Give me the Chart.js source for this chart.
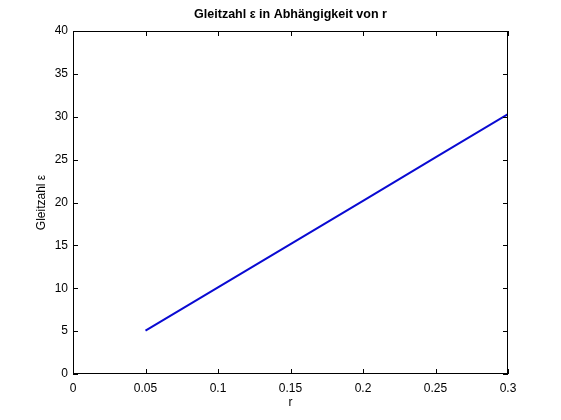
<!doctype html>
<html><head><meta charset="utf-8"><title>Gleitzahl</title>
<style>body{margin:0;background:#fff}</style>
</head>
<body>
<canvas id="c" width="561" height="420"></canvas>
<script src="https://cdn.jsdelivr.net/npm/chart.js"></script>
<script>
// Werte
const rValues = [0.05, 0.1, 0.15, 0.2, 0.25, 0.3]
const epsValues = [5.05, 10.1, 15.15, 20.2, 25.25, 30.3]
const xTickValues = [0, 0.05, 0.1, 0.15, 0.2, 0.25, 0.3]
const xTickLabels = ['0', '0.05', '0.1', '0.15', '0.2', '0.25', '0.3']
const yTickValues = [0, 5, 10, 15, 20, 25, 30, 35, 40]
const yTickLabels = ['0', '5', '10', '15', '20', '25', '30', '35', '40']

const font = { family: 'Arial, "Liberation Sans", Helvetica, sans-serif', size: 12 }

// Rahmen + Ticks nach innen (MATLAB-Stil)
const boxTicks = {
  id: 'boxTicks',
  afterDraw(chart) {
    const { ctx, chartArea: a, scales } = chart
    ctx.save()
    ctx.strokeStyle = '#000'
    ctx.lineWidth = 1
    ctx.strokeRect(a.left + 0.5, a.top + 0.5, a.right - a.left - 1, a.bottom - a.top - 1)
    ctx.beginPath()
    for (const t of scales.x.ticks) {
      const px = Math.round(scales.x.getPixelForValue(t.value)) + 0.5
      ctx.moveTo(px, a.bottom); ctx.lineTo(px, a.bottom - 5)
      ctx.moveTo(px, a.top); ctx.lineTo(px, a.top + 5)
    }
    for (const t of scales.y.ticks) {
      const py = Math.round(scales.y.getPixelForValue(t.value)) + 0.5
      ctx.moveTo(a.left, py); ctx.lineTo(a.left + 5, py)
      ctx.moveTo(a.right, py); ctx.lineTo(a.right - 5, py)
    }
    ctx.stroke()
    ctx.restore()
  }
}

new Chart(document.getElementById('c').getContext('2d'), {
  type: 'line',
  data: {
    datasets: [{
      data: rValues.map((r, i) => ({ x: r, y: epsValues[i] })),
      borderColor: '#0a0ad2',
      borderWidth: 2,
      pointRadius: 0,
      tension: 0
    }]
  },
  options: {
    responsive: false,
    animation: false,
    layout: { padding: { left: 0, right: 53, top: 0, bottom: 0 } },
    plugins: {
      legend: { display: false },
      tooltip: { enabled: false },
      title: {
        display: true,
        fullSize: false,
        text: 'Gleitzahl ε in Abhängigkeit von r',
        color: '#000',
        font: { ...font, size: 12.5, weight: 'bold' },
        padding: { top: 7, bottom: 9 }
      }
    },
    scales: {
      x: {
        type: 'linear',
        min: 0,
        max: 0.3,
        afterBuildTicks: (s) => { s.ticks = xTickValues.map((v) => ({ value: v })) },
        afterFit: (s) => { s.height = 46 },
        grid: { display: false, drawTicks: false },
        border: { display: false },
        ticks: {
          color: '#000', font, padding: 7, maxRotation: 0, autoSkip: false,
          callback: (v, i) => xTickLabels[i]
        },
        title: { display: true, text: 'r', color: '#000', font, padding: { top: 0, bottom: 10 } }
      },
      y: {
        min: 0,
        max: 40,
        afterBuildTicks: (s) => { s.ticks = yTickValues.map((v) => ({ value: v })) },
        afterFit: (s) => { s.width = 73 },
        grid: { display: false, drawTicks: false },
        border: { display: false },
        ticks: {
          color: '#000', font, padding: 5, autoSkip: false,
          callback: (v, i) => yTickLabels[i]
        },
        title: { display: true, text: 'Gleitzahl ε', color: '#000', font, padding: { top: 34, bottom: 0 } }
      }
    }
  },
  plugins: [boxTicks]
})
</script>
</body></html>
